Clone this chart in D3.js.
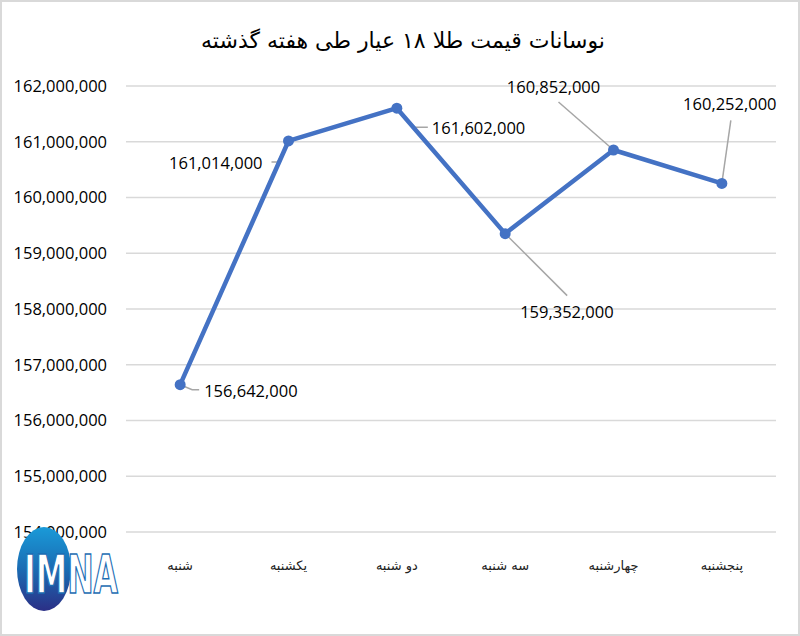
<!DOCTYPE html>
<html>
<head>
<meta charset="utf-8">
<script src="https://cdn.jsdelivr.net/npm/d3@7"></script>
<style>
  html, body { margin: 0; padding: 0; background: #fff; }
  svg { display: block; }
  .tick text { font-family: "Open Sans", Lato, sans-serif; }
</style>
</head>
<body>
<div id="chart"></div>
<script>
const days = ['شنبه', 'یکشنبه', 'دو شنبه', 'سه شنبه', 'چهارشنبه', 'پنجشنبه']
const prices = [156642000, 161014000, 161602000, 159352000, 160852000, 160252000]
const yTicks = [154000000, 155000000, 156000000, 157000000, 158000000, 159000000, 160000000, 161000000, 162000000]
const title = 'نوسانات قیمت طلا ۱۸ عیار طی هفته گذشته'

// label placement relative to each point: [dx, dy, anchor]
const labelPos = [[24, 7, 'start'], [-26, 22, 'end'], [35, 20, 'start'], [15, 79, 'start'], [-60, -63, 'middle'], [8, -79, 'middle']]
// leader polylines relative to each point
const leaders = [
  [[0, 0], [12, 5], [19, 5]],
  [[0, 2], [-11, 21], [-17, 21]],
  [[0, 0], [18, 19], [31, 19]],
  [[0, 0], [62, 62]],
  [[0, 0], [-55, -48]],
  [[0, 0], [9, -63]]
]

const W = 800, H = 636
const margin = { top: 86, right: 24, bottom: 104, left: 126 }

const svg = d3.select('#chart').append('svg').attr('width', W).attr('height', H)

svg.append('rect').attr('x', 1).attr('y', 1).attr('width', W - 2).attr('height', H - 2)
  .attr('fill', '#fff').attr('stroke', '#d9d9d9').attr('stroke-width', 2)

svg.append('text').attr('x', 403).attr('y', 48).attr('text-anchor', 'middle')
  .style('font-family', '"DejaVu Sans", sans-serif').style('font-size', '22px').attr('fill', '#000')
  .text(title)

const x = d3.scaleBand().domain(days).range([margin.left, W - margin.right])
const y = d3.scaleLinear().domain([154000000, 162000000]).range([H - margin.bottom, margin.top])

const g = svg.append('g')

// grid
g.selectAll('.grid').data(yTicks).join('line')
  .attr('x1', margin.left).attr('x2', W - margin.right)
  .attr('y1', d => y(d)).attr('y2', d => y(d))
  .attr('stroke', '#d9d9d9').attr('stroke-width', 1.5)

const yAxis = g.append('g').attr('transform', `translate(${margin.left - 16},0)`)
  .call(d3.axisLeft(y).tickValues(yTicks).tickFormat(d3.format(',')).tickSize(0))
yAxis.select('.domain').remove()
yAxis.selectAll('text').attr('font-size', 16.5).attr('fill', '#000').attr('dx', 0)

const xAxis = g.append('g').attr('transform', `translate(0,${H - margin.bottom + 26})`)
  .call(d3.axisBottom(x).tickSize(0))
xAxis.select('.domain').remove()
xAxis.selectAll('text').attr('font-size', 13).attr('fill', '#222')
  .style('font-family', '"DejaVu Sans", sans-serif')

const cx = d => x(d) + x.bandwidth() / 2

// leader lines
g.selectAll('.leader').data(prices).join('polyline')
  .attr('points', (d, i) => leaders[i].map(([dx, dy]) => [cx(days[i]) + dx, y(d) + dy].join(',')).join(' '))
  .attr('fill', 'none').attr('stroke', '#a6a6a6').attr('stroke-width', 1.5)

const line = d3.line().x((d, i) => cx(days[i])).y(d => y(d))
g.append('path').datum(prices).attr('d', line)
  .attr('fill', 'none').attr('stroke', '#4472c4').attr('stroke-width', 4.5)
  .attr('stroke-linejoin', 'round')

g.selectAll('.dot').data(prices).join('circle')
  .attr('cx', (d, i) => cx(days[i])).attr('cy', d => y(d)).attr('r', 5.5)
  .attr('fill', '#4472c4')

g.selectAll('.lbl').data(prices).join('text')
  .attr('x', (d, i) => cx(days[i]) + labelPos[i][0])
  .attr('y', (d, i) => y(d) + labelPos[i][1])
  .attr('dy', '0.35em')
  .attr('text-anchor', (d, i) => labelPos[i][2])
  .style('font-family', '"Open Sans", Lato, sans-serif').style('font-size', '16.5px').attr('fill', '#000')
  .text(d => d3.format(',')(d))

// IMNA logo
const defs = svg.append('defs')
const grad = defs.append('linearGradient').attr('id', 'logoGrad').attr('x1', 0).attr('y1', 0).attr('x2', 0).attr('y2', 1)
grad.append('stop').attr('offset', '0%').attr('stop-color', '#1a9ad8')
grad.append('stop').attr('offset', '50%').attr('stop-color', '#1a6cb3')
grad.append('stop').attr('offset', '100%').attr('stop-color', '#2b2f86')
const logo = svg.append('g')
logo.append('ellipse').attr('cx', 44).attr('cy', 569).attr('rx', 27).attr('ry', 42).attr('fill', 'url(#logoGrad)')
logo.append('text').attr('transform', 'translate(24,593) scale(1,1.35)')
  .style('font-family', '"DejaVu Sans Condensed", "Liberation Sans Narrow", sans-serif')
  .style('font-weight', 'bold').style('font-size', '40px')
  .attr('fill', '#fff').attr('stroke', '#1a6cb3').attr('stroke-width', 1.2)
  .attr('textLength', 94).attr('lengthAdjust', 'spacingAndGlyphs')
  .text('IMNA')
</script>
</body>
</html>
